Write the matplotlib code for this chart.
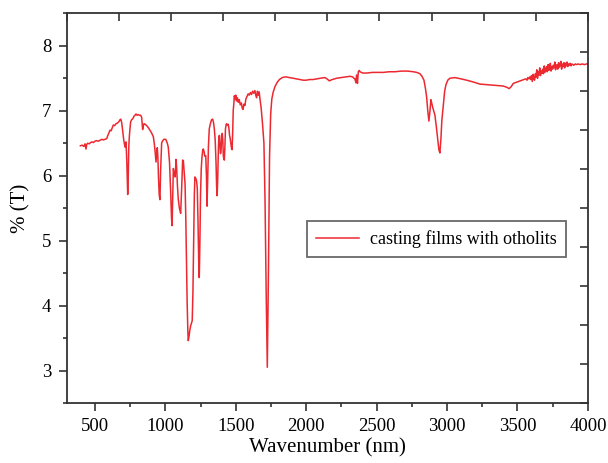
import numpy as np
import matplotlib
matplotlib.use("Agg")
import matplotlib.pyplot as plt
from matplotlib.ticker import MultipleLocator

plt.rcParams['font.family'] = ['Liberation Serif', 'DejaVu Serif']

wavenumber = [
    397, 410, 422, 430, 437, 442, 449, 460, 470, 480, 490, 500, 512, 525, 540, 552, 560, 572, 584,
    592, 600, 607, 615, 624, 631, 640, 650, 660, 670, 678, 684, 690, 697, 702, 707, 714, 718, 721,
    727, 733, 737, 741, 744, 749, 754, 761, 770, 779, 785, 792, 800, 808, 815, 825, 832, 836, 839,
    843, 849, 858, 868, 879, 891, 902, 915, 922, 928, 934, 939, 943, 947, 952, 957, 962, 967, 974,
    979, 990, 1003, 1014, 1021, 1030, 1038, 1044, 1048, 1052, 1057, 1062, 1069, 1073, 1076, 1081,
    1086, 1092, 1100, 1109, 1116, 1123, 1128, 1134, 1140, 1145, 1150, 1155, 1160, 1163, 1168, 1174,
    1180, 1186, 1191, 1196, 1201, 1206, 1210, 1216, 1222, 1227, 1232, 1237, 1241, 1245, 1250, 1255,
    1260, 1266, 1270, 1276, 1280, 1287, 1292, 1296, 1301, 1306, 1312, 1320, 1328, 1336, 1342, 1348,
    1354, 1360, 1364, 1368, 1372, 1376, 1380, 1384, 1388, 1392, 1396, 1400, 1404, 1408, 1412, 1416,
    1419, 1423, 1427, 1432, 1436, 1442, 1447, 1452, 1456, 1460, 1465, 1470, 1474, 1478, 1482, 1486,
    1490, 1495, 1500, 1505, 1512, 1518, 1525, 1532, 1540, 1546, 1552, 1558, 1565, 1572, 1580, 1588,
    1596, 1604, 1612, 1620, 1628, 1636, 1642, 1648, 1654, 1660, 1666, 1672, 1680, 1690, 1700, 1708,
    1716, 1724, 1732, 1740, 1748, 1756, 1765, 1778, 1795, 1810, 1830, 1850, 1861, 1880, 1908, 1930,
    1955, 1979, 2000, 2025, 2050, 2075, 2100, 2133, 2148, 2164, 2185, 2216, 2250, 2280, 2311, 2330,
    2339, 2346, 2353, 2358, 2364, 2370, 2376, 2382, 2392, 2401, 2430, 2470, 2510, 2547, 2590, 2630,
    2677, 2720, 2760, 2785, 2807, 2822, 2836, 2846, 2855, 2863, 2871, 2878, 2885, 2891, 2897, 2905,
    2914, 2924, 2934, 2942, 2949, 2956, 2963, 2973, 2983, 2992, 3005, 3020, 3056, 3100, 3139, 3190,
    3233, 3290, 3352, 3399, 3425, 3441, 3455, 3470, 3495, 3520, 3545, 3560, 3568, 3573, 3581, 3586,
    3594, 3599, 3605, 3611, 3616, 3621, 3627, 3631, 3637, 3642, 3648, 3652, 3658, 3663, 3669, 3674,
    3679, 3684, 3690, 3695, 3700, 3706, 3711, 3717, 3722, 3727, 3733, 3738, 3743, 3749, 3754, 3760,
    3765, 3770, 3776, 3781, 3786, 3792, 3797, 3803, 3808, 3813, 3819, 3824, 3830, 3835, 3841, 3846,
    3852, 3857, 3863, 3868, 3874, 3880, 3886, 3893, 3900, 3910, 3920, 3930, 3945, 3960, 3975, 3990,
    4000,
]

transmittance = [
    6.46, 6.47, 6.45, 6.49, 6.41, 6.48, 6.50, 6.49, 6.51, 6.52, 6.51, 6.53, 6.54, 6.53, 6.55, 6.56, 6.55, 6.56, 6.57,
    6.62, 6.66, 6.70, 6.69, 6.74, 6.78, 6.77, 6.80, 6.81, 6.83, 6.86, 6.87, 6.82, 6.70, 6.60, 6.52, 6.44, 6.50, 6.52,
    6.20, 5.71, 6.00, 6.45, 6.58, 6.72, 6.83, 6.86, 6.88, 6.92, 6.93, 6.95, 6.93, 6.94, 6.93, 6.93, 6.90, 6.78, 6.71,
    6.76, 6.80, 6.79, 6.77, 6.74, 6.70, 6.66, 6.60, 6.49, 6.36, 6.21, 6.33, 6.43, 6.30, 5.95, 5.70, 5.63, 6.10, 6.50,
    6.53, 6.56, 6.56, 6.50, 6.44, 6.20, 5.75, 5.35, 5.23, 5.60, 6.11, 6.05, 5.98, 6.10, 6.25, 6.10,
    5.85, 5.64, 5.50, 5.42, 5.80, 6.24, 6.23, 6.05, 5.88, 5.40, 4.70, 4.05, 3.60, 3.46, 3.52, 3.62,
    3.69, 3.73, 3.77, 4.20, 4.90, 5.70, 5.98, 5.96, 5.92, 5.80, 5.30, 4.70, 4.43, 4.90, 5.70, 6.10,
    6.28, 6.40, 6.41, 6.36, 6.30, 6.31, 6.00, 5.53, 5.95, 6.45, 6.72, 6.80, 6.86, 6.87, 6.82, 6.72,
    6.55, 6.20, 5.85, 5.69, 5.95, 6.35, 6.60, 6.62, 6.45, 6.34, 6.40, 6.62, 6.65, 6.55, 6.30, 6.25,
    6.24, 6.45, 6.72, 6.79, 6.80, 6.78, 6.79, 6.72, 6.62, 6.58, 6.50, 6.42, 6.40, 6.65, 7.00, 7.10,
    7.23, 7.18, 7.24, 7.15, 7.20, 7.13, 7.17, 7.09, 7.12, 7.04, 7.02, 7.10, 7.08, 7.18, 7.22, 7.26,
    7.24, 7.28, 7.25, 7.30, 7.27, 7.31, 7.24, 7.20, 7.30, 7.24, 7.29, 7.18, 7.05, 6.80, 6.50, 5.60,
    4.20, 3.05, 4.50, 6.30, 6.95, 7.18, 7.28, 7.37, 7.44, 7.48, 7.51, 7.52, 7.52, 7.51, 7.50, 7.49,
    7.48, 7.47, 7.47, 7.48, 7.48, 7.49, 7.50, 7.51, 7.49, 7.46, 7.48, 7.50, 7.51, 7.52, 7.53, 7.52,
    7.50, 7.49, 7.43, 7.55, 7.42, 7.60, 7.62, 7.60, 7.59, 7.58, 7.58, 7.59, 7.59, 7.59, 7.60, 7.60,
    7.61, 7.61, 7.60, 7.59, 7.57, 7.53, 7.47, 7.35, 7.21, 7.00, 6.84, 6.98, 7.17, 7.12, 7.06, 7.00,
    6.93, 6.75, 6.55, 6.40, 6.35, 6.55, 6.85, 7.08, 7.30, 7.40, 7.47, 7.50, 7.51, 7.49, 7.47, 7.44,
    7.41, 7.40, 7.39, 7.38, 7.36, 7.34, 7.37, 7.42, 7.44, 7.46, 7.48, 7.49, 7.47, 7.51, 7.49, 7.52,
    7.48, 7.54, 7.45, 7.56, 7.50, 7.47, 7.57, 7.52, 7.63, 7.50, 7.60, 7.55, 7.66, 7.54, 7.61, 7.58,
    7.64, 7.57, 7.69, 7.59, 7.63, 7.68, 7.60, 7.71, 7.62, 7.66, 7.73, 7.61, 7.68, 7.64, 7.70, 7.66,
    7.75, 7.63, 7.69, 7.71, 7.64, 7.74, 7.67, 7.70, 7.76, 7.64, 7.72, 7.68, 7.74, 7.66, 7.73, 7.69,
    7.75, 7.68, 7.72, 7.70, 7.73, 7.69, 7.72, 7.71, 7.70, 7.72, 7.71, 7.72, 7.71, 7.72, 7.71, 7.72,
    7.72,
]

series_label = "casting films with otholits"
x_major = [500, 1000, 1500, 2000, 2500, 3000, 3500, 4000]
y_major = [3, 4, 5, 6, 7, 8]

fig = plt.figure(figsize=(6.08, 4.63), dpi=100)
ax = fig.add_axes([0.1097, 0.1296, 0.967 - 0.1097, 0.9713 - 0.1296])

line_color = '#EC2830'
ax.plot(wavenumber, transmittance, color=line_color, lw=1.1, label=series_label)

ax.set_xlim(300, 4000)
ax.set_ylim(2.5, 8.5)
ax.set_xticks(x_major)
ax.xaxis.set_minor_locator(MultipleLocator(250))
ax.set_yticks(y_major)
ax.yaxis.set_minor_locator(MultipleLocator(0.5))

spine_c = '#333333'
for s in ax.spines.values():
    s.set_color(spine_c)
    s.set_linewidth(1.3)

ax.tick_params(which='major', direction='out', length=6, width=1.2, color=spine_c,
               labelsize=13.5, pad=5, top=False, right=False)
ax.tick_params(which='minor', direction='out', length=3.2, width=1.2, color=spine_c,
               top=False, right=False)

# top and right axes: 10 equal divisions, inward ticks
top = ax.secondary_xaxis('top')
top.set_xticks(np.linspace(300, 4000, 11))
top.set_xticklabels([])
top.tick_params(direction='in', length=6, width=1.2, color=spine_c)
top.spines['top'].set_visible(False)
right = ax.secondary_yaxis('right')
right.set_yticks(np.linspace(2.5, 8.5, 11))
right.set_yticklabels([])
right.tick_params(direction='in', length=6, width=1.2, color=spine_c)
right.spines['right'].set_visible(False)

ax.set_xlabel("Wavenumber (nm)", fontsize=15, labelpad=2)
ax.set_ylabel("% (T)", fontsize=15, labelpad=8)

leg = ax.legend(loc='upper left', bbox_to_anchor=(0.461, 0.467), fontsize=13,
                frameon=True, fancybox=False, handlelength=2.4, handletextpad=0.6,
                borderpad=0.5, borderaxespad=0)
leg.get_frame().set_edgecolor('#444444')
leg.get_frame().set_linewidth(1.3)

fig.savefig("out.png", dpi=100)
